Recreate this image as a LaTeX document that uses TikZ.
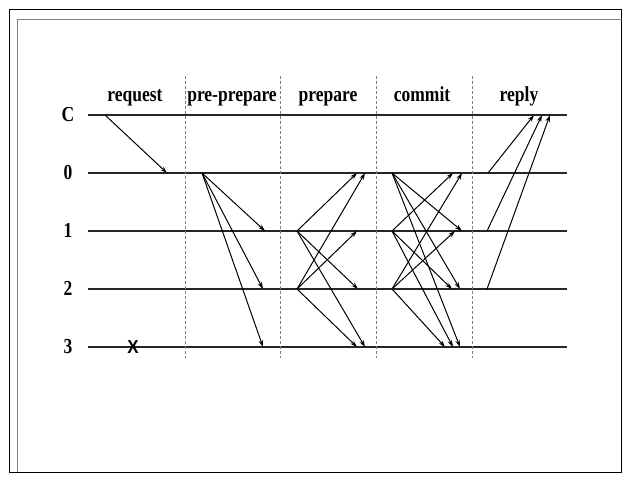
\documentclass[tikz,border=0pt]{standalone}
\usepackage{fontspec}
\setmainfont{Liberation Serif}
\newfontfamily\crossfont{Liberation Sans}
\usetikzlibrary{arrows.meta}
\begin{document}
\begin{tikzpicture}[x=1pt,y=-1pt,font=\fontsize{17.5}{17.5}\selectfont\bfseries]
  \tikzstyle{procline}=[line width=2.2pt, black!85]
  \tikzstyle{phasesep}=[gray, line width=0.5pt, dash pattern=on 3pt off 2pt]
  \tikzstyle{msg}=[-{Stealth[length=7pt,width=4.5pt]}, line width=1pt]
  \tikzstyle{lbl}=[inner sep=0pt, anchor=base]
  \useasboundingbox (0,0) rectangle (623,476);
  % frame
  \draw[line width=1pt] (9,10) rectangle (621.5,472);
  \draw[gray, line width=0.8pt] (17,472) -- (17,19) -- (621.5,19);

  % replica lines
  \foreach \name/\y in {C/115, 0/173, 1/231, 2/289, 3/347} {
    \node[lbl] (lab\name) at (68,\y+6.5) {\scalebox{1}[1.22]{\name}};
    \coordinate (s\name) at (88,\y);
    \coordinate (e\name) at (567,\y);
    \draw[procline] (s\name) -- (e\name);
  }

  % phase separators
  \foreach \i/\x in {1/185, 2/280, 3/376, 4/472} {
    \coordinate (top\i) at (\x,76);
    \coordinate (bot\i) at (\x,358);
    \draw[phasesep] (top\i) -- (bot\i);
  }

  % phase names
  \foreach \i/\txt/\x in {1/request/135, 2/pre-prepare/232, 3/prepare/328, 4/commit/422, 5/reply/519}
    \node[lbl] (ph\i) at (\x,102) {\scalebox{1}[1.22]{\txt}};

  % failed replica
  \node[inner sep=0pt, font=\fontsize{17}{17}\selectfont\crossfont\bfseries] (fail) at (133,347) {\scalebox{1}[1.1]{X}};

  % messages
  \foreach \i/\xa/\ya/\xb/\yb in {
      1/105/115/167/173,
      2/202/173/265/231, 3/202/173/263/289, 4/202/173/263/347,
      5/297/231/357/173, 6/297/231/358/289, 7/297/231/365/347,
      8/297/289/365/173, 9/297/289/357/231, 10/297/289/357/347,
      11/392/173/462/231, 12/392/173/460/289, 13/392/173/460/347,
      14/392/231/453/173, 15/392/231/452/289, 16/392/231/453/347,
      17/392/289/462/173, 18/392/289/455/231, 19/392/289/445/347,
      20/488/173/534/115, 21/487/231/542/115, 22/487/289/550/115} {
    \coordinate (from\i) at (\xa,\ya);
    \coordinate (to\i) at (\xb,\yb);
    \draw[msg] (from\i) -- (to\i);
  }
\end{tikzpicture}
\end{document}
